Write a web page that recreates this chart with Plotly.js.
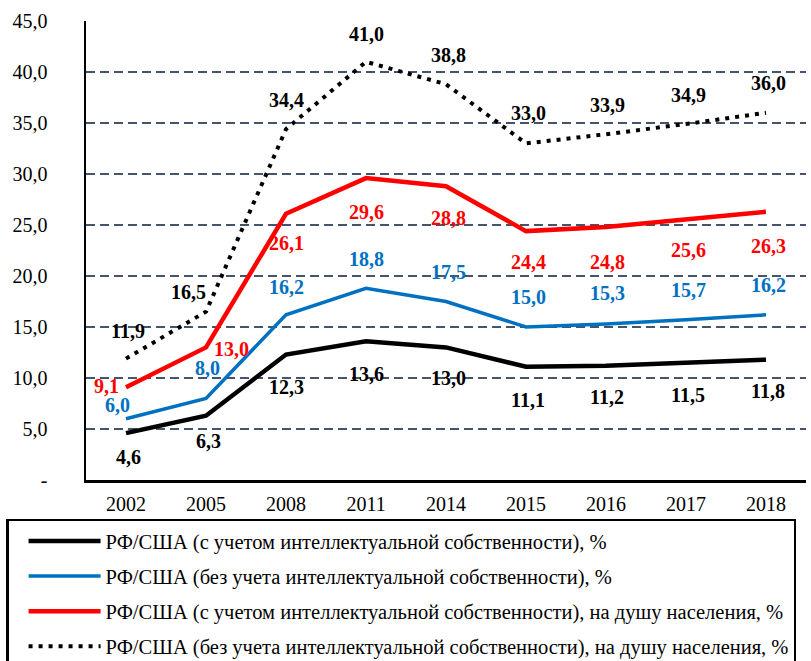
<!DOCTYPE html>
<html>
<head>
<meta charset="utf-8">
<script src="https://cdn.plot.ly/plotly-3.0.1.min.js"></script>
<style>html,body{margin:0;padding:0;background:#fff;}#chart{width:811px;height:661px;}</style>
</head>
<body>
<div id="chart"></div>
<script>
var years = ['2002','2005','2008','2011','2014','2015','2016','2017','2018'];
var withIP = [4.6, 6.3, 12.3, 13.6, 13.0, 11.1, 11.2, 11.5, 11.8];
var withoutIP = [6.0, 8.0, 16.2, 18.8, 17.5, 15.0, 15.3, 15.7, 16.2];
var withIPPerCapita = [9.1, 13.0, 26.1, 29.6, 28.8, 24.4, 24.8, 25.6, 26.3];
var withoutIPPerCapita = [11.9, 16.5, 34.4, 41.0, 38.8, 33.0, 33.9, 34.9, 36.0];
var seriesNames = [
  'РФ/США (с учетом интеллектуальной собственности), %',
  'РФ/США (без учета интеллектуальной собственности), %',
  'РФ/США (с учетом интеллектуальной собственности), на душу населения, %',
  'РФ/США (без учета интеллектуальной собственности), на душу населения, %'
];
var yTickVals = [0, 5, 10, 15, 20, 25, 30, 35, 40, 45];
var yTickText = ['-', '5,0', '10,0', '15,0', '20,0', '25,0', '30,0', '35,0', '40,0', '45,0'];

function fmt(v){ return v.toFixed(1).replace('.', ','); }

var serif = 'Liberation Serif, Times New Roman, serif';
var colors = ['#000000', '#0070C0', '#FF0000', '#000000'];
var allSeries = [withIP, withoutIP, withIPPerCapita, withoutIPPerCapita];

// label offsets (xshift, yshift) in px
var offsets = [
  [[2,-24],[2,-25],[0,-32],[0,-33],[2,-31],[2,-33],[1,-31],[2,-32],[2,-31]],
  [[-9,14],[1,30],[0,28],[0,29],[2,30],[2,30],[1,31],[2,30],[2,30]],
  [[-20,1],[25,-2],[0,-29],[0,-34],[2,-32],[2,-31],[1,-35],[2,-31],[2,-34]],
  [[2,28],[-18,20],[0,29],[0,28],[2,29],[2,30],[1,29],[2,29],[2,30]]
];

var traces = [
  {x: years, y: withIP, name: seriesNames[0], mode: 'lines', line: {color: '#000000', width: 4.5}},
  {x: years, y: withoutIP, name: seriesNames[1], mode: 'lines', line: {color: '#0070C0', width: 3.5}},
  {x: years, y: withIPPerCapita, name: seriesNames[2], mode: 'lines', line: {color: '#FF0000', width: 4.5}},
  {x: years, y: withoutIPPerCapita, name: seriesNames[3], mode: 'lines', line: {color: '#000000', width: 4, dash: '4px,6px'}}
];
traces.forEach(function(t, i){ t.legendgroup = 'g' + i; t.hoverinfo = 'skip'; });

var annotations = [];
allSeries.forEach(function(s, i){
  s.forEach(function(v, j){
    annotations.push({
      x: j, y: v, xref: 'x', yref: 'y', text: '<b>' + fmt(v) + '</b>', showarrow: false,
      xshift: offsets[i][j][0], yshift: offsets[i][j][1],
      font: {family: serif, size: 20, color: colors[i]}
    });
  });
});

var layout = {
  width: 811, height: 661,
  margin: {l: 86, r: 5, t: 21, b: 181, autoexpand: false},
  paper_bgcolor: '#ffffff', plot_bgcolor: '#ffffff',
  showlegend: true,
  font: {family: serif, color: '#000000'},
  xaxis: {
    type: 'category', range: [-0.5, 8.5], showgrid: false, zeroline: false,
    showline: true, linecolor: '#000000', linewidth: 2.5,
    ticks: '', tickfont: {family: serif, size: 20, color: '#000'}, ticklabelstandoff: 4
  },
  yaxis: {
    range: [0, 45], tickvals: yTickVals, ticktext: yTickText,
    showgrid: true, gridcolor: '#44546A', gridwidth: 2, griddash: '9px,5px',
    zeroline: false, showline: true, linecolor: '#000000', linewidth: 2.5,
    ticks: '', tickfont: {family: serif, size: 20, color: '#000'}, ticklabelstandoff: 32
  },
  legend: {
    x: -0.111, xanchor: 'left', y: -0.084, yanchor: 'top',
    bordercolor: '#000000', borderwidth: 2.5, bgcolor: '#ffffff',
    font: {family: serif, size: 20.5, color: '#000'},
    traceorder: 'grouped', tracegroupgap: 5.5, itemwidth: 72, indentation: 15
  },
  annotations: annotations
};

Plotly.newPlot('chart', traces, layout, {displayModeBar: false, staticPlot: true});
</script>
</body>
</html>
